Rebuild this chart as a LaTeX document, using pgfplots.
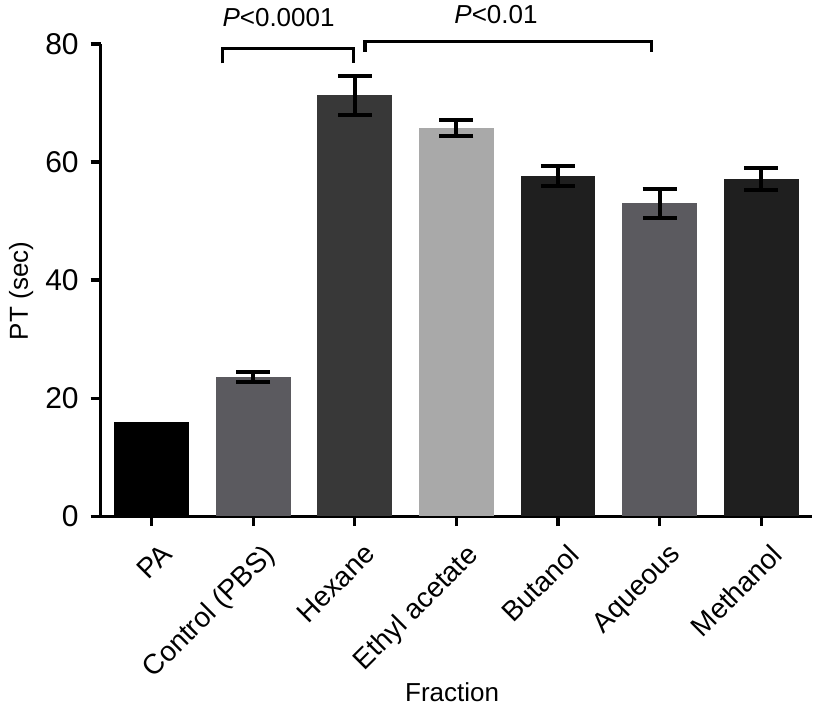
\documentclass[border=0pt]{standalone}
\usepackage{fontspec}
\setmainfont{Liberation Sans}
\usepackage{pgfplots}
\pgfplotsset{compat=1.18}
\definecolor{cPA}{HTML}{000000}
\definecolor{cCtl}{HTML}{5B5A5F}
\definecolor{cHex}{HTML}{383838}
\definecolor{cEth}{HTML}{A9A9A9}
\definecolor{cBut}{HTML}{1F1F1F}
\definecolor{cAq}{HTML}{5B5A5F}
\definecolor{cMeth}{HTML}{1F1F1F}
\pgfplotsset{
  errs/.style={error bars/.cd, y dir=both, y explicit,
    error bar style={draw=black, line width=2pt, solid},
    error mark options={draw=black, line width=2pt, mark size=8.5pt, rotate=90}},
}
\newcommand{\lab}{\fontsize{13}{15}\selectfont}
\newcommand{\xlab}{\fontsize{14}{16}\selectfont}
\newcommand{\ylab}{\fontsize{15}{17}\selectfont}
\begin{document}
\begin{tikzpicture}
\begin{axis}[
  scale only axis, width=355.5pt, height=236pt,
  xmin=-0.5, xmax=6.5, ymin=0, ymax=80,
  axis lines=left, axis line style={-, line width=1.6pt},
  ybar, bar width=0.737, bar shift=0pt,
  xtick={0,1,2,3,4,5,6},
  xticklabels={PA,Control (PBS),Hexane,Ethyl acetate,Butanol,Aqueous,Methanol},
  ytick={0,20,40,60,80},
  tick align=outside, major tick length=5pt,
  tick style={line width=1.6pt, black},
  x tick label style={rotate=45, anchor=north east, inner sep=0pt, font=\xlab, xshift=-2.5pt, yshift=-8.5pt},
  y tick label style={font=\ylab, xshift=-2.5pt},
  /pgf/number format/assume math mode=true,
  ylabel={PT (sec)}, xlabel={Fraction},
  label style={font=\lab},
  ylabel style={at={(axis description cs:-0.112,0.477)}, anchor=center},
  xlabel style={at={(axis description cs:0.494,-0.373)}, anchor=center},
  clip=false,
]
\addplot[fill=cPA, draw=none] coordinates {(0,15.9)};
\addplot[fill=cCtl, draw=none, errs] coordinates {(1,23.6) +- (0,0.9)};
\addplot[fill=cHex, draw=none, errs] coordinates {(2,71.3) +- (0,3.3)};
\addplot[fill=cEth, draw=none, errs] coordinates {(3,65.8) +- (0,1.4)};
\addplot[fill=cBut, draw=none, errs] coordinates {(4,57.6) +- (0,1.7)};
\addplot[fill=cAq, draw=none, errs] coordinates {(5,53.0) +- (0,2.5)};
\addplot[fill=cMeth, draw=none, errs] coordinates {(6,57.1) +- (0,1.9)};
\draw[line width=1.6pt] (axis cs:0.70,76.7) -- (axis cs:0.70,79.3) -- (axis cs:1.99,79.3) -- (axis cs:1.99,76.7);
\draw[line width=1.6pt] (axis cs:2.10,78.7) -- (axis cs:2.10,80.4) -- (axis cs:4.92,80.4) -- (axis cs:4.92,78.7);
\node[anchor=base, font=\lab, inner sep=0pt] at (axis cs:1.25,83.0) {\textit{P}<0.0001};
\node[anchor=base, font=\lab, inner sep=0pt] at (axis cs:3.39,83.4) {\textit{P}<0.01};
\end{axis}
\pgfresetboundingbox
\path[use as bounding box] (current axis.south west) ++(-50.35pt,-102pt) rectangle ([shift={(1.5pt,22pt)}]current axis.north east);
\end{tikzpicture}
\end{document}
